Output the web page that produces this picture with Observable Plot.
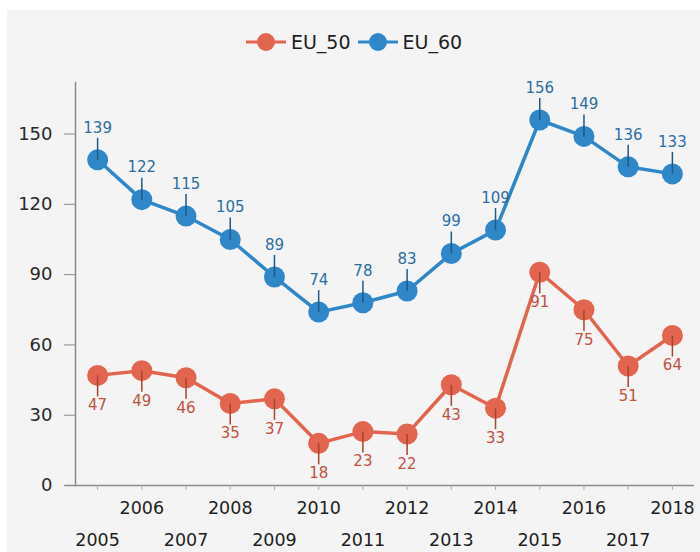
<!DOCTYPE html>
<html>
<head>
<meta charset="utf-8">
<script src="https://cdn.jsdelivr.net/npm/d3@7"></script>
<script src="https://cdn.jsdelivr.net/npm/@observablehq/plot@0.6"></script>
<style>
  html, body { margin: 0; padding: 0; background: #ffffff; }
  #panel { position: absolute; left: 7px; top: 10px; width: 693px; height: 542px; background: #f4f4f4; overflow: hidden; }
  #legend { height: 56px; padding-top: 4px; display: flex; justify-content: center; align-items: center; gap: 6px;
            font-family: "DejaVu Sans", Verdana, sans-serif; font-size: 19px; color: #1e1e1e; }
  .item { display: flex; align-items: center; gap: 4px; }
  #chart svg { overflow: visible; background: transparent; }
</style>
</head>
<body>
<div id="panel">
  <div id="legend"></div>
  <div id="chart"></div>
</div>
<script>
const years = [2005, 2006, 2007, 2008, 2009, 2010, 2011, 2012, 2013, 2014, 2015, 2016, 2017, 2018];
const eu50 = [47, 49, 46, 35, 37, 18, 23, 22, 43, 33, 91, 75, 51, 64];
const eu60 = [139, 122, 115, 105, 89, 74, 78, 83, 99, 109, 156, 149, 136, 133];
const seriesNames = ["EU_50", "EU_60"];
const seriesColors = ["#e2654f", "#2f87c8"];
const labelColors = ["#c4503f", "#2b6ea6"];
const stemColors = ["#a9432f", "#1d5a8a"];
const yTicks = [0, 30, 60, 90, 120, 150];

const rows50 = years.map((y, i) => ({year: y, series: "EU_50", value: eu50[i]}));
const rows60 = years.map((y, i) => ({year: y, series: "EU_60", value: eu60[i]}));
const rows = rows50.concat(rows60);

// legend
const legend = document.getElementById("legend");
seriesNames.forEach((name, i) => {
  const item = document.createElement("div");
  item.className = "item";
  const ns = "http://www.w3.org/2000/svg";
  const svg = document.createElementNS(ns, "svg");
  svg.setAttribute("width", 42); svg.setAttribute("height", 22);
  const line = document.createElementNS(ns, "line");
  line.setAttribute("x1", 1); line.setAttribute("x2", 41); line.setAttribute("y1", 11); line.setAttribute("y2", 11);
  line.setAttribute("stroke", seriesColors[i]); line.setAttribute("stroke-width", 3);
  const c = document.createElementNS(ns, "circle");
  c.setAttribute("cx", 21); c.setAttribute("cy", 11); c.setAttribute("r", 9); c.setAttribute("fill", seriesColors[i]);
  svg.appendChild(line); svg.appendChild(c);
  const span = document.createElement("span");
  span.textContent = name;
  item.appendChild(svg); item.appendChild(span);
  legend.appendChild(item);
});

const stemUp = { draw(context) { context.moveTo(0, 0); context.lineTo(0, -22); } };
const stemDown = { draw(context) { context.moveTo(0, 0); context.lineTo(0, 21); } };

const font = "DejaVu Sans, Verdana, sans-serif";

const chart = Plot.plot({
  width: 693,
  height: 482,
  marginTop: 12,
  marginBottom: 67,
  marginLeft: 68,
  marginRight: 6,
  style: { fontFamily: font, background: "transparent", overflow: "visible" },
  x: { type: "linear", domain: [2004.5, 2018.5], axis: null },
  y: { type: "linear", domain: [0, 172], axis: null },
  color: { domain: seriesNames, range: seriesColors },
  marks: [
    Plot.ruleY([0], { x1: 2004.27, x2: 2018.5, stroke: "#8a8a8a", strokeWidth: 1.5 }),
    Plot.frame({ anchor: "left", stroke: "#8a8a8a", strokeWidth: 1.5 }),
    Plot.axisY({ ticks: yTicks, tickSize: 11, tickPadding: 12, stroke: "#8a8a8a", fontSize: 18, color: "#2a2a2a", label: null }),
    Plot.axisX({ ticks: years, tickSize: 5, tickFormat: () => "", stroke: "#aaa", label: null }),
    Plot.text(years.filter(y => y % 2 === 0), { x: d => d, y: 0, dy: 23, text: d => String(d), fontSize: 17.5, fill: "#1e1e1e" }),
    Plot.text(years.filter(y => y % 2 === 1), { x: d => d, y: 0, dy: 55, text: d => String(d), fontSize: 17.5, fill: "#1e1e1e" }),
    Plot.line(rows, { x: "year", y: "value", z: "series", stroke: "series", strokeWidth: 3.5 }),
    Plot.dot(rows, { x: "year", y: "value", fill: "series", r: 10.5 }),
    Plot.dot(rows60, { x: "year", y: "value", symbol: stemUp, r: 5, fill: "none", stroke: stemColors[1], strokeWidth: 1.5 }),
    Plot.dot(rows50, { x: "year", y: "value", symbol: stemDown, r: 5, fill: "none", stroke: stemColors[0], strokeWidth: 1.5 }),
    Plot.text(rows60, { x: "year", y: "value", text: d => String(d.value), dy: -32, fontSize: 15, fill: labelColors[1] }),
    Plot.text(rows50, { x: "year", y: "value", text: d => String(d.value), dy: 30, fontSize: 15, fill: labelColors[0] })
  ]
});
document.getElementById("chart").appendChild(chart);
</script>
</body>
</html>
